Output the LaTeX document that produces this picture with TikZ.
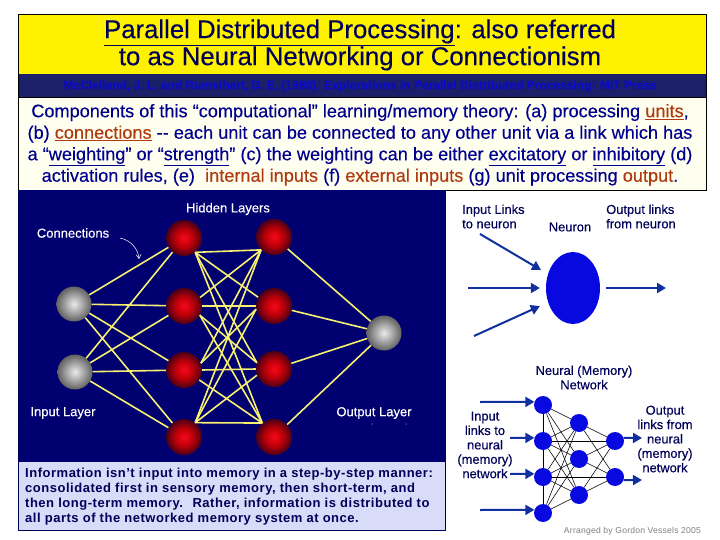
\documentclass[tikz,border=0pt]{standalone}
\usepackage{fontspec}
\setmainfont[FakeBold=0.3]{Liberation Sans}
\newfontfamily\spacedfont[LetterSpace=4]{Liberation Sans}
\newfontfamily\creditfont[LetterSpace=2.5]{Liberation Sans}
\usetikzlibrary{arrows.meta, shapes.geometric}
\definecolor{titlenavy}{HTML}{000058}
\definecolor{bodynavy}{HTML}{000090}
\definecolor{rust}{HTML}{B03A10}
\definecolor{barnavy}{HTML}{1C2068}
\definecolor{barblue}{HTML}{0A0AC8}
\definecolor{cream}{HTML}{FFFFF0}
\definecolor{panelnavy}{HTML}{000070}
\definecolor{infoblue}{HTML}{D8DCF8}
\definecolor{linkyellow}{HTML}{F8F070}
\definecolor{unitblue}{HTML}{0808E0}
\definecolor{arrowblue}{HTML}{1030A0}
\definecolor{ballcore}{HTML}{F80818}
\definecolor{ballmid}{HTML}{B80008}
\definecolor{balledge}{HTML}{480018}
\pgfdeclareradialshading{redshade}{\pgfpointorigin}{color(0bp)=(ballcore); color(13bp)=(ballmid); color(25bp)=(balledge); color(50bp)=(balledge)}
\newcommand{\rustul}[1]{\textcolor{rust}{\underline{#1}}}
\tikzset{
    redball/.style={circle, inner sep=0, minimum size=36pt, shading=redshade},
    greyball/.style={circle, inner sep=0, minimum size=35pt, inner color=black!8, outer color=black!62},
    unit/.style={circle, inner sep=0, minimum size=18pt, fill=unitblue},
    link/.style={draw=linkyellow, line width=1.6pt},
    netlink/.style={draw=black, line width=0.55pt},
    bluearrow/.style={draw=arrowblue, line width=2pt, -{Triangle[length=9pt,width=10pt]}},
    paneltext/.style={text=white, font=\fontsize{13}{15}\selectfont},
    darklabel/.style={text=titlenavy, align=center, inner sep=0, font=\fontsize{12.9}{14.4}\selectfont}
}
\begin{document}
\begin{tikzpicture}[x=1pt, y=-1pt]
    \useasboundingbox (0,0) rectangle (720,540);
    % Header bands
    \fill[yellow] (18,14) rectangle (706,74);
    \fill[barnavy] (18,74) rectangle (706,97);
    \fill[cream] (18,97) rectangle (706,190);
    \draw[black] (18,14) rectangle (706,190);
    \draw[black] (18,97) -- (706,97);
    \node[text=titlenavy, align=center, font=\fontsize{25.75}{26}\selectfont] (title) at (360,45)
        {\underline{Parallel Distributed Processing}: also referred\\to as Neural Networking or Connectionism};
    \node[text=barblue, font=\bfseries\fontsize{12}{13}\selectfont] (citation) at (360,86)
        {McClelland, J. L. and Rumelhart, D. E. (1988). Explorations in Parallel Distributed Processing: MIT Press};
    \node[text=bodynavy, align=center, font=\fontsize{18.15}{21.5}\selectfont] (theory) at (360,144.8)
        {Components of this “computational” learning/memory theory: (a) processing \rustul{units},\\
        (b) \rustul{connections} -{}- each unit can be connected to any other unit via a link which has\\
        a “\underline{weighting}” or “\underline{strength}” (c) the weighting can be either \underline{excitatory} or \underline{inhibitory} (d)\\
        activation rules, (e)~ \textcolor{rust}{internal inputs} (f) \textcolor{rust}{external inputs} (g) unit processing \textcolor{rust}{output}.};
    % Network panel
    \fill[panelnavy] (18,190) rectangle (445,462);
    \foreach \name/\x/\y in {r1/184/238, r2/184/306, r3/184/370, r4/184/437,
                             s1/274/237, s2/274/306, s3/274/369, s4/274/437}
        \node[redball] (\name) at (\x,\y) {};
    \foreach \name/\x/\y in {g1/74/304, g2/75/372, gout/384/333}
        \node[greyball] (\name) at (\x,\y) {};
    % Input and output links
    \foreach \a in {g1,g2}
        \foreach \b in {r1,r2,r3,r4}
            \draw[link] (\a) -- (\b);
    \foreach \a in {s1,s2,s3,s4}
        \draw[link] (\a) -- (gout);
    % Links between hidden layers
    \foreach \a/\b in {r1.-52/s1.-135, r1.-52/s2.151, r1.-52/s3.160, r1.-52/s4.130,
                       r2.28/s1.-135, r2.0/s2.180, r2.-30/s3.160, r2.-30/s4.130,
                       r3.22/s1.-135, r3.22/s2.-170, r3.0/s3.180, r3.-33/s4.130,
                       r4.52/s1.-135, r4.52/s2.-170, r4.52/s3.-160, r4.52/s4.130}
        \draw[link] (\a) -- (\b);
    % Panel labels
    \node[paneltext] (hidden) at (228,209) {Hidden Layers};
    \node[paneltext] (connections) at (73,233) {Connections};
    \node[paneltext] (inputlayer) at (63,413) {Input Layer};
    \node[paneltext] (outputlayer) at (374,413) {Output Layer};
    \coordinate (curveA) at (120,238);
    \coordinate (curveB) at (139,259);
    \draw[white, line width=0.5pt, -{Straight Barb[length=4pt,width=5pt]}] (curveA) .. controls (130,240) and (138,248) .. (curveB);
    \fill[white] (372,424) circle (0.5) (406,424) circle (0.5);
    % Information box
    \fill[infoblue] (18,462) rectangle (445,530);
    \draw[titlenavy] (18,190) -- (18,530) -- (445,530) -- (445,190);
    \node[anchor=north west, text=titlenavy, align=left, inner sep=0, font=\spacedfont\bfseries\fontsize{13}{15}\selectfont] (info) at (25,468)
        {Information isn’t input into memory in a step-by-step manner:\\
        consolidated first in sensory memory, then short-term, and\\
        then long-term memory.~ Rather, information is distributed to\\
        all parts of the networked memory system at once.};
    % Single neuron
    \node[ellipse, inner sep=0, minimum width=54pt, minimum height=72pt, fill=unitblue] (neuron) at (573,288) {};
    \coordinate (inA) at (480,234);
    \coordinate (inB) at (468,288);
    \coordinate (inC) at (474,336);
    \coordinate (outA) at (666,288);
    \draw[bluearrow, shorten >=8pt] (inA) -- (neuron.151);
    \draw[bluearrow, shorten >=6pt] (inB) -- (neuron.west);
    \draw[bluearrow, shorten >=9pt] (inC) -- (neuron.-150);
    \draw[bluearrow, shorten <=6pt] (neuron.east) -- (outA);
    \node[darklabel, align=left, anchor=west] (inlinks) at (462,216.5) {Input Links\\to neuron};
    \node[darklabel] (neuronlabel) at (570,227) {Neuron};
    \node[darklabel, align=left, anchor=west] (outlinks) at (606,216.5) {Output links\\from neuron};
    % Memory network
    \node[darklabel] (netlabel) at (584,377.5) {Neural (Memory)\\Network};
    \foreach \name/\x/\y in {n1/543/405, n2/543/441, n3/543/477, n4/543/513,
                             m1/579/423, m2/579/459, m3/579/495,
                             o1/615/441, o2/615/477}
        \node[unit] (\name) at (\x,\y) {};
    \draw[netlink] (n1) -- (n2) -- (n3) -- (n4);
    \foreach \a in {n1,n2,n3,n4}
        \foreach \b in {m1,m2,m3}
            \draw[netlink] (\a) -- (\b);
    \foreach \a in {m1,m2,m3}
        \foreach \b in {o1,o2}
            \draw[netlink] (\a) -- (\b);
    \draw[netlink] (n2) -- (o1);
    \draw[netlink] (n3) -- (o2);
    \foreach \name/\x/\y in {netA/480/402, netB/510/438, netC/510/474, netD/480/510}
        \coordinate (\name) at (\x,\y);
    \coordinate (netE) at (642,438);
    \coordinate (netF) at (642,480);
    \draw[bluearrow] (netA) -- (n1.160);
    \draw[bluearrow] (netB) -- (n2.160);
    \draw[bluearrow] (netC) -- (n3.160);
    \draw[bluearrow] (netD) -- (n4.160);
    \draw[bluearrow] (o1.20) -- (netE);
    \draw[bluearrow] (o2.-20) -- (netF);
    \node[darklabel] (netinput) at (485,445) {Input\\links to\\neural\\(memory)\\network};
    \node[darklabel] (netoutput) at (665,439) {Output\\links from\\neural\\(memory)\\network};
    \node[text=black!50, font=\creditfont\fontsize{8.6}{10}\selectfont] (credit) at (632.5,531) {Arranged by Gordon Vessels 2005};
\end{tikzpicture}
\end{document}
